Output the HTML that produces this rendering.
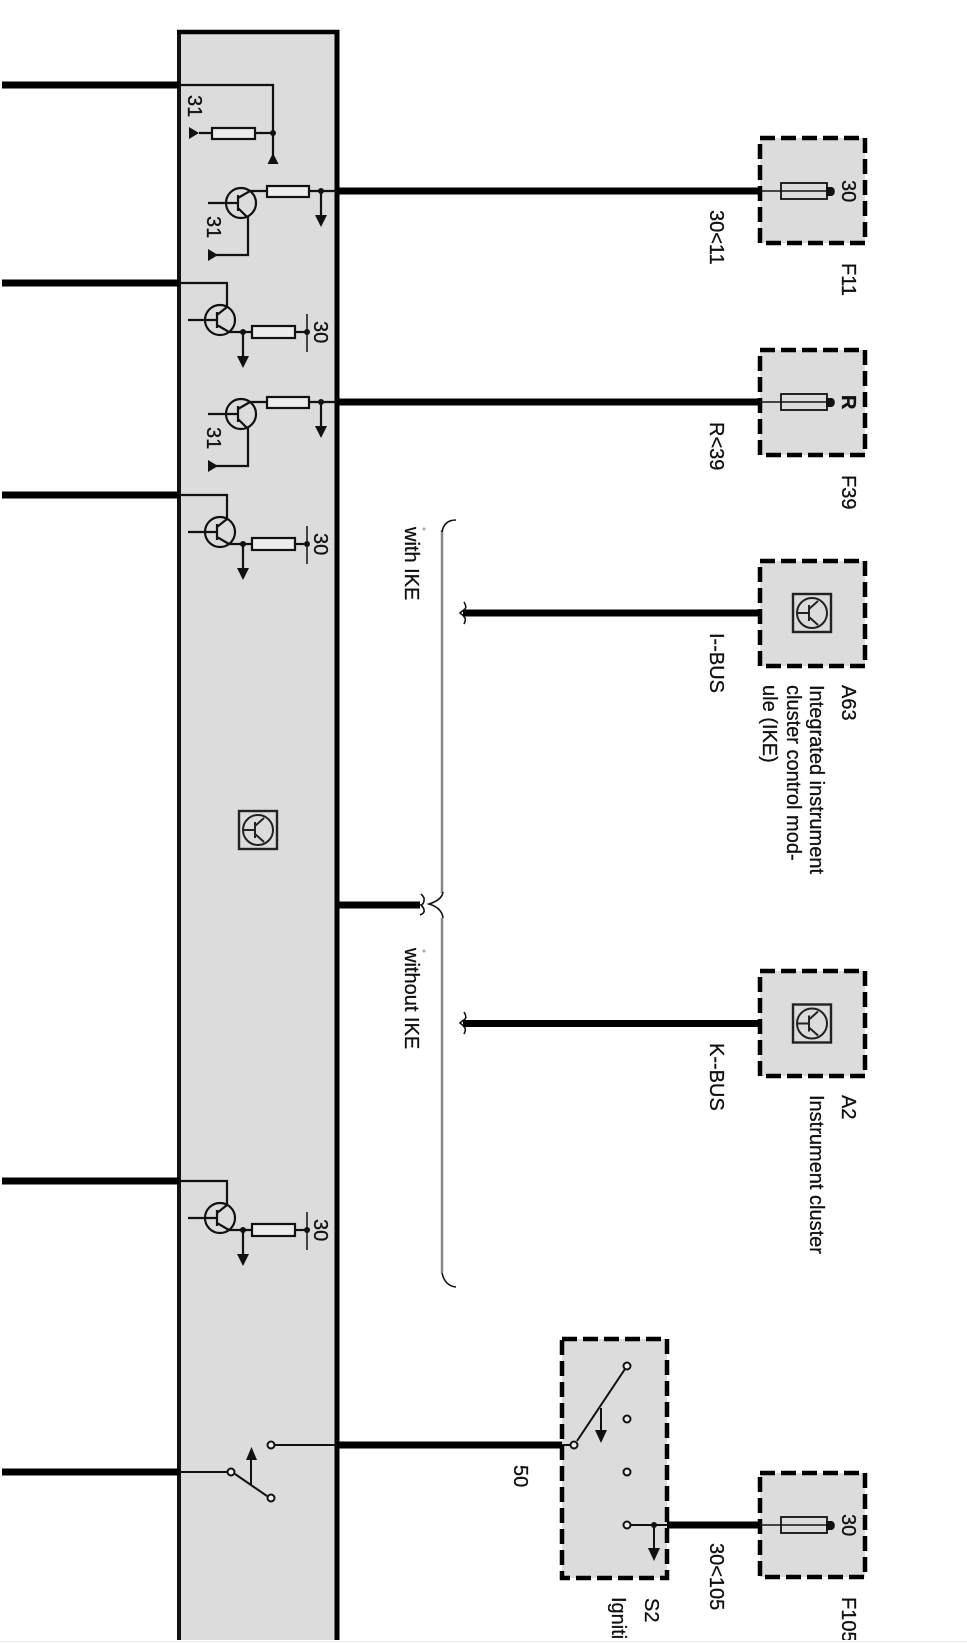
<!DOCTYPE html>
<html><head><meta charset="utf-8"><style>
html,body{margin:0;padding:0;background:#fff}
svg{display:block}
text{font-family:"Liberation Sans",sans-serif;font-size:20px;fill:#111;stroke:#111;stroke-width:.3px}
</style></head><body>
<svg width="967" height="1643" viewBox="0 0 967 1643" xmlns="http://www.w3.org/2000/svg">
<defs>
<g id="ta" fill="none" stroke="#111" stroke-width="2.200">
<circle cx="241" cy="12" r="15"/><path d="M208 12H238M238 4V20" />
<path d="M238 7L250 0H267M238 17L248 27V64H216"/>
<polygon points="208,58 208,70 218,64" fill="#111" stroke="none"/>
<rect x="267" y="-5" width="42" height="11" fill="#ececec"/>
<path d="M309 0H337M321 0V26"/>
<circle cx="321" cy="0" r="3" fill="#111" stroke="none"/>
<polygon points="315,24 327,24 321,36" fill="#111" stroke="none"/>
</g>
<g id="tb" fill="none" stroke="#111" stroke-width="2.200">
<path d="M179 0H227V24"/>
<circle cx="220" cy="37" r="15"/><path d="M188 37H217M217 29V45M217 32L227 24M217 42L229 49H252M243 49V75"/>
<circle cx="243" cy="49" r="3" fill="#111" stroke="none"/>
<polygon points="237,73 249,73 243,85" fill="#111" stroke="none"/>
<rect x="252" y="43" width="43" height="12" fill="#ececec"/>
<path d="M295 49H307"/><path d="M307 31V69" stroke-width="1.500"/>
<circle cx="307" cy="49" r="3" fill="#111" stroke="none"/>
</g>
<g id="fuse" fill="none" stroke="#111">
<rect x="781" y="-8" width="46" height="16" stroke-width="1.800"/>
<path d="M760 0H828" stroke-width="1.500"/>
<path d="M826 -4H832A5 5 0 0 1 832 5H826Z" fill="#111" stroke="none"/>
</g>
<g id="icon" fill="none" stroke="#222" stroke-width="2">
<rect x="-19" y="-19" width="38" height="38" stroke-width="2.400"/>
<circle cx="0" cy="0" r="15"/>
<path d="M-15 0H-3M-3 -8V8M-3 -4L6 -12M-3 4L6 12"/>
</g>
</defs>
<rect x="179" y="32" width="158" height="1608" fill="#dcdcdc"/>
<path d="M179 1640V32" stroke="#111" stroke-width="4" fill="none"/>
<path d="M177 32H339" stroke="#000" stroke-width="4.500" fill="none"/>
<path d="M337 30V1640" stroke="#000" stroke-width="5" fill="none"/>

<!-- left wires -->
<g stroke="#000" stroke-width="7" fill="none">
<path d="M2 85H179M2 283H179M2 495H179M2 1181H179M2 1472H179"/>
<path d="M337 191H760M337 402H760M337 905H420M463 613H760M463 1023.500H760M337 1445H562M667 1525H760"/>
</g>

<!-- top resistor -->
<g fill="none" stroke="#111" stroke-width="2.200">
<path d="M179 85H273V155M199 133H212M255 133H273"/>
<rect x="212" y="128" width="43" height="11" fill="#ececec"/>
<circle cx="273" cy="133" r="3" fill="#111" stroke="none"/>
<polygon points="273,153 267.500,164 278.500,164" fill="#111" stroke="none"/>
<polygon points="189,127 189,139 199,133" fill="#111" stroke="none"/>
</g>
<text transform="translate(188,95) rotate(90)">31</text>

<use href="#ta" x="0" y="191"/>
<text transform="translate(207,216) rotate(90)">31</text>
<use href="#tb" x="0" y="283"/>
<text transform="translate(314,321) rotate(90)">30</text>
<use href="#ta" x="0" y="402"/>
<text transform="translate(207,427) rotate(90)">31</text>
<use href="#tb" x="0" y="495"/>
<text transform="translate(314,533) rotate(90)">30</text>
<use href="#tb" x="0" y="1181"/>
<text transform="translate(314,1219) rotate(90)">30</text>

<use href="#icon" x="258" y="830"/>

<!-- left switch -->
<g fill="none" stroke="#111" stroke-width="2">
<path d="M179 1472H227M235 1474L267 1496M251 1484V1458M275 1445H337"/>
<circle cx="231" cy="1472" r="3.500" fill="#eee"/>
<circle cx="271" cy="1498" r="3.500" fill="#eee"/>
<circle cx="271" cy="1445" r="3.500" fill="#eee"/>
<polygon points="251.500,1447 246,1460 257,1460" fill="#111" stroke="none"/>
</g>

<!-- fuse boxes -->
<g fill="#dcdcdc" stroke="#000" stroke-width="4.500" stroke-dasharray="15 6">
<rect x="760" y="138" width="105" height="105"/>
<rect x="760" y="350" width="105" height="105"/>
<rect x="760" y="561" width="105" height="105"/>
<rect x="760" y="971" width="105" height="105"/>
<rect x="562" y="1339" width="105" height="239"/>
<rect x="760" y="1473" width="105" height="104"/>
</g>
<use href="#fuse" x="0" y="191"/>
<use href="#fuse" x="0" y="402"/>
<use href="#fuse" x="0" y="1525"/>
<use href="#icon" x="812" y="613"/>
<use href="#icon" x="812" y="1023.500"/>

<!-- S2 switch -->
<g fill="none" stroke="#111" stroke-width="2">
<path d="M562 1445H570M577 1441L625 1369M601 1408V1432M631 1525H667M654 1525V1550"/>
<circle cx="574" cy="1445" r="3.500" fill="#eee"/>
<circle cx="627" cy="1366" r="3.500" fill="#eee"/>
<circle cx="627" cy="1419" r="3.500" fill="#eee"/>
<circle cx="627" cy="1472" r="3.500" fill="#eee"/>
<circle cx="627" cy="1525" r="3.500" fill="#eee"/>
<circle cx="654" cy="1525" r="3" fill="#111" stroke="none"/>
<polygon points="595,1430 607,1430 601,1443" fill="#111" stroke="none"/>
<polygon points="648,1548 660,1548 654,1561" fill="#111" stroke="none"/>
</g>

<!-- brace -->
<path d="M442 530V893M442 918V1273" stroke="#888" stroke-width="2.500" fill="none"/>
<g fill="none" stroke="#111" stroke-width="1.600">
<path d="M456 520Q444 520 442 532"/>
<path d="M456 1287Q445 1286 442 1273"/>
<path d="M443 892Q442 900 429 904Q442 908 443 918"/>
<path d="M421 894Q425 898 424 900Q424 904 421 905Q424 908 424 910Q425 913 420 915"/>
<path d="M464 602Q467 607 465 609Q461 612 460 613Q463 615 465 618Q466 620 464 624"/>
<path d="M464 1012Q467 1017 465 1019Q461 1022 460 1023Q463 1025 465 1028Q466 1030 464 1034"/>
</g>

<!-- labels -->
<text transform="translate(842,180) rotate(90)">30</text>
<text transform="translate(842,1514) rotate(90)">30</text>
<text transform="translate(842,395) rotate(90)" style="font-weight:bold">R</text>
<text transform="translate(710,210) rotate(90)">30&lt;11</text>
<text transform="translate(710,422) rotate(90)">R&lt;39</text>
<text transform="translate(710,1543) rotate(90)">30&lt;105</text>
<text transform="translate(710,633) rotate(90)">I--BUS</text>
<text transform="translate(710,1043) rotate(90)">K--BUS</text>
<text transform="translate(842,263) rotate(90)">F11</text>
<text transform="translate(842,475) rotate(90)">F39</text>
<text transform="translate(842,685) rotate(90)">A63</text>
<text transform="translate(842,1095) rotate(90)">A2</text>
<text transform="translate(842,1597) rotate(90)">F105</text>
<text transform="translate(645,1598) rotate(90)">S2</text>
<text transform="translate(514,1465) rotate(90)">50</text>
<text transform="translate(810,685) rotate(90)">Integrated instrument</text>
<text transform="translate(787,685) rotate(90)">cluster control mod-</text>
<text transform="translate(763,685) rotate(90)">ule (IKE)</text>
<text transform="translate(810,1095) rotate(90)">Instrument cluster</text>
<text transform="translate(405,527) rotate(90)">with IKE</text>
<text transform="translate(405,948) rotate(90)">without IKE</text>
<text transform="translate(612,1597) rotate(90)">Ignition switch</text>
<circle cx="424" cy="529" r="1.500" fill="#aaa"/>
<circle cx="424" cy="951" r="1.500" fill="#aaa"/>
<rect x="0" y="1640" width="967" height="3" fill="#fff"/>
<rect x="0" y="1641" width="967" height="1" fill="#e8e8e8"/>
</svg>
</body></html>
